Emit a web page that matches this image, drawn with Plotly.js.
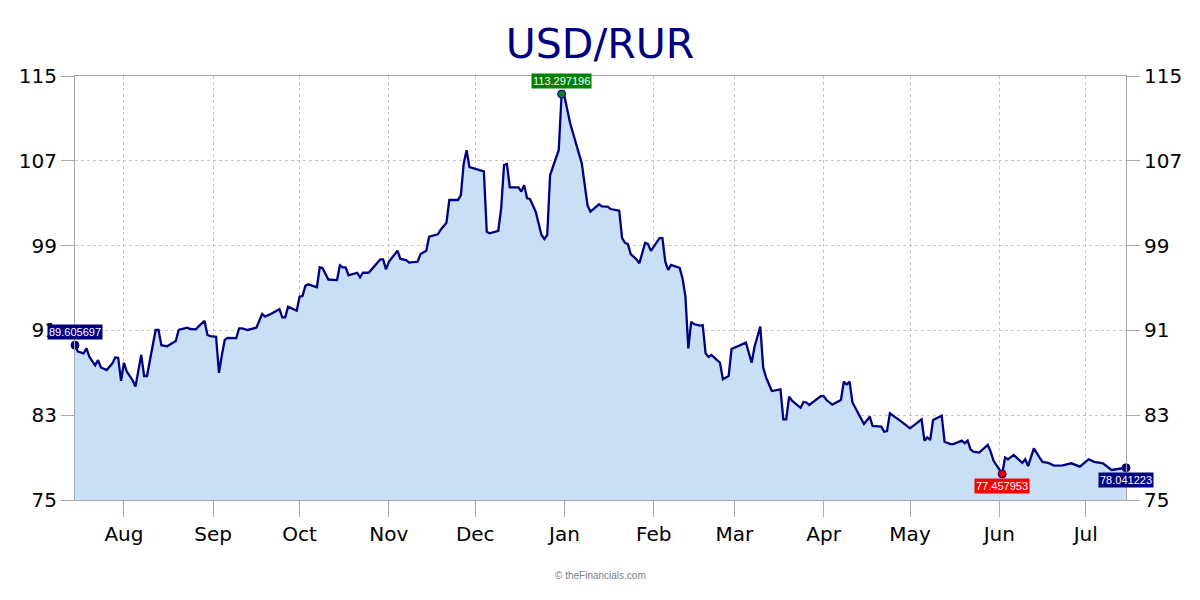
<!DOCTYPE html>
<html>
<head>
<meta charset="utf-8">
<script src="https://cdn.plot.ly/plotly-3.0.1.min.js"></script>
<style>html,body{margin:0;padding:0;background:#fff;}#chart{width:1200px;height:600px;}</style>
</head>
<body>
<div id="chart"></div>
<script>
const chartTitle = 'USD/RUR';
const dates = ['2024-07-15','2024-07-16','2024-07-18','2024-07-19','2024-07-20','2024-07-22','2024-07-23','2024-07-24','2024-07-26','2024-07-28','2024-07-29','2024-07-30','2024-07-31','2024-08-01','2024-08-02','2024-08-04','2024-08-05','2024-08-07','2024-08-08','2024-08-09','2024-08-12','2024-08-13','2024-08-14','2024-08-16','2024-08-19','2024-08-20','2024-08-22','2024-08-23','2024-08-24','2024-08-26','2024-08-27','2024-08-29','2024-08-30','2024-08-31','2024-09-02','2024-09-03','2024-09-04','2024-09-05','2024-09-06','2024-09-09','2024-09-10','2024-09-11','2024-09-13','2024-09-16','2024-09-18','2024-09-19','2024-09-21','2024-09-24','2024-09-25','2024-09-26','2024-09-27','2024-09-30','2024-10-01','2024-10-02','2024-10-03','2024-10-04','2024-10-07','2024-10-08','2024-10-09','2024-10-11','2024-10-14','2024-10-15','2024-10-16','2024-10-17','2024-10-18','2024-10-21','2024-10-22','2024-10-23','2024-10-25','2024-10-27','2024-10-29','2024-10-30','2024-10-31','2024-11-01','2024-11-04','2024-11-05','2024-11-07','2024-11-08','2024-11-11','2024-11-12','2024-11-14','2024-11-15','2024-11-18','2024-11-19','2024-11-21','2024-11-22','2024-11-25','2024-11-26','2024-11-27','2024-11-28','2024-11-29','2024-12-04','2024-12-05','2024-12-06','2024-12-09','2024-12-10','2024-12-11','2024-12-12','2024-12-13','2024-12-16','2024-12-17','2024-12-18','2024-12-19','2024-12-20','2024-12-22','2024-12-23','2024-12-24','2024-12-25','2024-12-26','2024-12-27','2024-12-30','2024-12-31','2025-01-01','2025-01-03','2025-01-07','2025-01-09','2025-01-10','2025-01-13','2025-01-14','2025-01-16','2025-01-17','2025-01-20','2025-01-21','2025-01-22','2025-01-23','2025-01-24','2025-01-26','2025-01-27','2025-01-28','2025-01-29','2025-01-30','2025-01-31','2025-02-03','2025-02-04','2025-02-05','2025-02-06','2025-02-07','2025-02-10','2025-02-11','2025-02-12','2025-02-13','2025-02-14','2025-02-15','2025-02-17','2025-02-18','2025-02-19','2025-02-20','2025-02-21','2025-02-23','2025-02-24','2025-02-25','2025-02-27','2025-02-28','2025-03-02','2025-03-04','2025-03-05','2025-03-07','2025-03-08','2025-03-10','2025-03-11','2025-03-12','2025-03-14','2025-03-17','2025-03-18','2025-03-19','2025-03-20','2025-03-21','2025-03-24','2025-03-25','2025-03-26','2025-03-27','2025-03-31','2025-04-01','2025-04-02','2025-04-04','2025-04-07','2025-04-08','2025-04-09','2025-04-10','2025-04-11','2025-04-13','2025-04-15','2025-04-17','2025-04-18','2025-04-21','2025-04-22','2025-04-23','2025-04-24','2025-04-28','2025-05-01','2025-05-05','2025-05-06','2025-05-07','2025-05-08','2025-05-09','2025-05-12','2025-05-13','2025-05-15','2025-05-16','2025-05-19','2025-05-20','2025-05-21','2025-05-22','2025-05-23','2025-05-25','2025-05-28','2025-05-29','2025-05-30','2025-06-02','2025-06-03','2025-06-04','2025-06-06','2025-06-09','2025-06-10','2025-06-11','2025-06-13','2025-06-15','2025-06-16','2025-06-18','2025-06-20','2025-06-23','2025-06-26','2025-06-29','2025-07-02','2025-07-04','2025-07-07','2025-07-10','2025-07-12','2025-07-15'];
const values = [89.605697,89.0,88.84,89.3,88.5,87.7,88.2,87.5,87.26,87.9,88.46,88.4,86.25,87.95,87.1,86.3,85.7,88.7,86.7,86.7,91.04,91.04,89.6,89.5,90.0,91.04,91.2,91.26,91.13,91.1,91.4,91.9,90.57,90.47,90.4,87.0,88.68,90.1,90.3,90.28,91.2,91.2,91.04,91.26,92.55,92.3,92.55,93.0,92.23,92.23,93.24,92.86,94.18,94.25,95.2,95.35,95.07,96.95,96.86,95.8,95.75,97.14,96.95,96.95,96.2,96.44,96.0,96.44,96.44,97.1,97.7,97.7,96.76,97.48,98.52,97.74,97.64,97.39,97.48,98.2,98.52,99.84,100.06,100.5,101.16,103.3,103.3,103.77,106.76,108.0,106.4,106.0,100.3,100.16,100.4,102.5,106.6,106.7,104.5,104.5,104.1,104.7,103.46,103.4,102.2,101.1,100.0,99.62,100.0,105.66,108.02,113.297196,113.05,110.5,106.76,102.8,102.2,102.9,102.7,102.67,102.45,102.3,99.7,99.27,99.15,98.2,97.7,97.33,98.42,99.27,99.15,98.5,99.7,99.7,97.48,96.7,97.17,96.9,95.9,94.18,89.3,91.8,91.6,91.45,91.5,88.84,88.5,88.68,88.2,87.95,86.4,86.7,89.24,89.5,89.7,89.84,87.95,89.46,91.35,87.5,86.57,85.28,85.44,82.6,82.6,84.75,84.37,83.7,84.25,84.2,83.96,84.8,84.8,84.43,84.0,84.43,86.16,85.9,86.16,84.2,83.18,82.17,82.86,81.98,81.92,81.45,81.5,83.18,82.4,81.76,82.6,80.6,80.9,80.66,82.55,82.95,80.5,80.28,80.28,80.6,80.35,80.6,79.78,79.56,79.47,80.19,79.56,78.7,77.457953,79.0,78.84,79.25,78.5,78.84,78.2,79.87,79.0,78.6,78.5,78.24,78.27,78.46,78.15,78.84,78.6,78.46,77.83,77.9,78.041223];
const yTicks = [75, 83, 91, 99, 107, 115];
const watermark = '© theFinancials.com';

const iMax = values.indexOf(Math.max(...values));
const iMin = values.indexOf(Math.min(...values));
const iFirst = 0, iLast = values.length - 1;
const fmt = v => v.toFixed(6);

const navy = '#000080';
const gridC = '#c4c4c4';
const axisC = '#a8a8a8';
const tickFont = {family: 'DejaVu Sans, Verdana, sans-serif', size: 20, color: '#000'};

const traces = [
  {x: dates, y: values, type: 'scatter', mode: 'lines', fill: 'tozeroy',
   fillcolor: '#c9dff5', line: {color: navy, width: 2.3}, hoverinfo: 'x+y', showlegend: false},
  {x: [dates[iFirst], dates[iMax], dates[iMin], dates[iLast]],
   y: [values[iFirst], values[iMax], values[iMin], values[iLast]],
   type: 'scatter', mode: 'markers', cliponaxis: false, showlegend: false,
   marker: {size: 8, color: [navy, '#107a30', '#e00000', navy], line: {color: navy, width: 1}}},
  {x: [dates[0]], y: [values[0]], yaxis: 'y2', type: 'scatter', mode: 'none', showlegend: false, hoverinfo: 'skip'}
];

function tag(i, bg, shift) {
  return {x: dates[i], y: values[i], xref: 'x', yref: 'y', text: fmt(values[i]), showarrow: false,
    yshift: shift, bgcolor: bg, borderpad: 1,
    font: {family: 'Liberation Sans, Arial, sans-serif', size: 11, color: '#fff'}};
}

const layout = {
  width: 1200, height: 600,
  margin: {l: 75, r: 74, t: 76, b: 100},
  paper_bgcolor: '#fff', plot_bgcolor: '#fff',
  title: {text: chartTitle, x: 0.5, xanchor: 'center', y: 0.928, yanchor: 'middle',
    font: {family: 'DejaVu Sans, Verdana, sans-serif', size: 41, color: navy}},
  xaxis: {type: 'date', range: [dates[0], dates[iLast]], tick0: '2024-08-01', dtick: 'M1',
    tickformat: '%b', ticks: 'outside', ticklen: 16, tickcolor: axisC, tickfont: tickFont,
    showgrid: true, gridcolor: gridC, griddash: '3px,3px', gridwidth: 1,
    showline: true, linecolor: axisC, linewidth: 1, mirror: true, zeroline: false, fixedrange: true},
  yaxis: {range: [75, 115], tickvals: yTicks, ticks: 'outside', ticklen: 13, tickcolor: axisC,
    tickfont: tickFont, showgrid: true, gridcolor: gridC, griddash: 'dot', gridwidth: 1,
    showline: true, linecolor: axisC, linewidth: 1, zeroline: false, fixedrange: true},
  yaxis2: {range: [75, 115], tickvals: yTicks, overlaying: 'y', side: 'right', ticks: 'outside',
    ticklen: 13, tickcolor: axisC, tickfont: tickFont, showgrid: false, showline: true,
    linecolor: axisC, linewidth: 1, zeroline: false, fixedrange: true},
  annotations: [
    tag(iFirst, navy, 13),
    tag(iMax, '#008000', 13),
    tag(iMin, '#ff0000', -12),
    tag(iLast, navy, -12),
    {xref: 'paper', yref: 'paper', x: 0.5, y: -0.177, xanchor: 'center', yanchor: 'middle',
     text: watermark, showarrow: false, font: {family: 'Liberation Sans, Arial, sans-serif', size: 10, color: '#808080'}}
  ],
  showlegend: false
};

Plotly.newPlot('chart', traces, layout, {displayModeBar: false, staticPlot: true});
</script>
</body>
</html>
